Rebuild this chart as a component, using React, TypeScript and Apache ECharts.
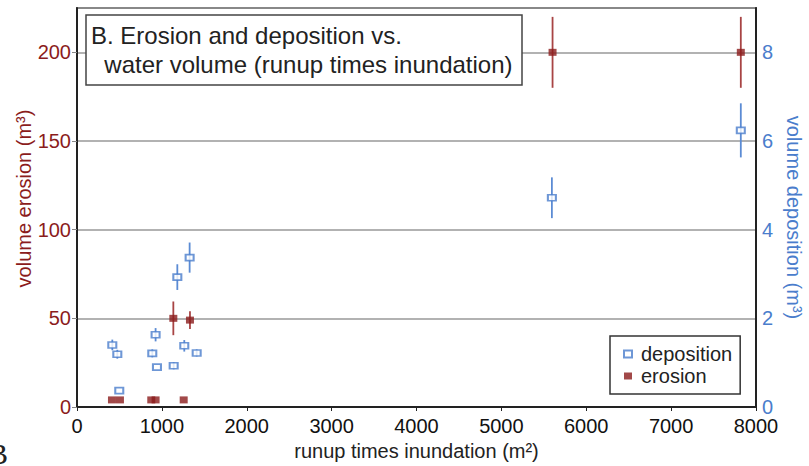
import React, { useEffect, useRef } from "react";
import * as echarts from "echarts";

// Deposition (right axis, m^3)
const depX = [416, 475, 498, 887, 926, 942, 1139, 1182, 1264, 1327, 1410, 5595, 7821];
const depY = [1.4, 1.19, 0.37, 1.21, 1.63, 0.9, 0.93, 2.93, 1.38, 3.37, 1.22, 4.72, 6.24];
const depErr = [0.12, 0.1, 0, 0.09, 0.15, 0, 0.08, 0.29, 0.13, 0.34, 0.08, 0.46, 0.61];

// Erosion (left axis, m^3)
const eroX = [412, 506, 875, 926, 1257, 1135, 1331, 5603, 7821];
const eroY = [4, 4, 4, 4, 4, 50, 49, 200, 200];
const eroErr = [0, 0, 0, 0, 0, 9.5, 5, 20, 20];

const xTicks = [0, 8000, 1000];
const leftTicks = [0, 225, 50];
const rightTicks = [0, 9, 2];

const RED = "#8b1c1c";
const RED_BAR = "#a84444";
const BLUE = "#4a7dcc";
const BLUE_BAR = "#5b8bd4";
const FONT = "'Liberation Sans', Arial, sans-serif";

function errBars(xs: number[], ys: number[], es: number[]) {
  const out: number[][] = [];
  xs.forEach((x, i) => {
    if (es[i] > 0) out.push([x, ys[i] - es[i], ys[i] + es[i]]);
  });
  return out;
}

function makeRender(color: string) {
  return (params: any, api: any) => {
    const x = api.value(0);
    const p1 = api.coord([x, api.value(1)]);
    const p2 = api.coord([x, api.value(2)]);
    return {
      type: "line",
      shape: { x1: p1[0], y1: p1[1], x2: p2[0], y2: p2[1] },
      style: { stroke: color, lineWidth: 1.8 },
    };
  };
}

export default function App() {
  const ref = useRef<HTMLDivElement>(null);
  useEffect(() => {
    if (!ref.current) return;
    const chart = echarts.init(ref.current, undefined, { renderer: "svg" });
    chart.setOption({
      animation: false,
      backgroundColor: "#fff",
      textStyle: { fontFamily: FONT },
      title: {
        text: "B. Erosion and deposition vs.\n  water volume (runup times inundation)",
        left: 86,
        top: 15,
        padding: [6, 10, 6, 5],
        borderColor: "#444",
        borderWidth: 1.5,
        backgroundColor: "#fff",
        textStyle: {
          fontFamily: FONT,
          fontSize: 24,
          fontWeight: "normal",
          color: "#222",
          lineHeight: 29,
        },
      },
      legend: {
        data: ["deposition", "erosion"],
        orient: "vertical",
        left: 610,
        top: 336,
        padding: [8, 8, 8, 13],
        itemGap: 2,
        itemWidth: 8,
        itemHeight: 7,
        borderColor: "#333",
        borderWidth: 1.5,
        backgroundColor: "#fff",
        textStyle: { fontFamily: FONT, fontSize: 20, color: "#222", padding: [0, 0, 0, 4] },
      },
      grid: {
        left: 77,
        right: 53,
        top: 8,
        bottom: 59,
        containLabel: false,
        outerBoundsMode: "none",
        show: true,
        borderColor: "#222",
        borderWidth: 1.5,
      },
      xAxis: {
        type: "value",
        min: xTicks[0],
        max: xTicks[1],
        interval: xTicks[2],
        name: "runup times inundation (m²)",
        nameLocation: "middle",
        nameGap: 31,
        nameTextStyle: { fontFamily: FONT, fontSize: 20, color: "#222" },
        axisLine: { lineStyle: { color: "#222", width: 2 } },
        axisTick: { length: 4, lineStyle: { color: "#222" } },
        axisLabel: {
          fontFamily: FONT,
          fontSize: 20,
          color: "#111",
          margin: 9,
          formatter: (v: number) => String(v),
        },
        splitLine: { show: false },
      },
      yAxis: [
        {
          type: "value",
          position: "left",
          min: leftTicks[0],
          max: leftTicks[1],
          interval: leftTicks[2],
          name: "volume erosion (m³)",
          nameLocation: "middle",
          nameGap: 43,
          nameMoveOverlap: false,
          nameTextStyle: { fontFamily: FONT, fontSize: 20, color: RED, padding: [0, 0, 0, 18] },
          axisLine: { show: true, lineStyle: { color: "#222", width: 2 } },
          axisTick: { show: true, length: 5, lineStyle: { color: "#888" } },
          axisLabel: { fontFamily: FONT, fontSize: 20, color: RED, margin: 6, showMaxLabel: false },
          splitLine: { show: true, lineStyle: { color: "#999", width: 1.5 } },
        },
        {
          type: "value",
          position: "right",
          min: rightTicks[0],
          max: rightTicks[1],
          interval: rightTicks[2],
          name: "volume deposition (m³)",
          nameLocation: "middle",
          nameRotate: -90,
          nameGap: 16,
          nameTextStyle: { fontFamily: FONT, fontSize: 20, color: BLUE, padding: [0, 0, 0, 20] },
          axisLine: { show: true, lineStyle: { color: "#222", width: 2 } },
          axisTick: { show: false },
          axisLabel: { fontFamily: FONT, fontSize: 20, color: BLUE, margin: 6, showMaxLabel: false },
          splitLine: { show: false },
        },
      ],
      series: [
        {
          name: "erosion-err",
          type: "custom",
          yAxisIndex: 0,
          renderItem: makeRender(RED_BAR),
          encode: { x: 0, y: [1, 2] },
          data: errBars(eroX, eroY, eroErr),
          z: 2,
        },
        {
          name: "deposition-err",
          type: "custom",
          yAxisIndex: 1,
          renderItem: makeRender(BLUE_BAR),
          encode: { x: 0, y: [1, 2] },
          data: errBars(depX, depY, depErr),
          z: 2,
        },
        {
          name: "deposition",
          type: "scatter",
          yAxisIndex: 1,
          symbol: "rect",
          symbolSize: [8, 6],
          itemStyle: { color: "#fff", borderColor: BLUE, borderWidth: 1.8 },
          data: depX.map((x, i) => [x, depY[i]]),
          z: 3,
        },
        {
          name: "erosion",
          type: "scatter",
          yAxisIndex: 0,
          symbol: "rect",
          symbolSize: [8, 7],
          itemStyle: { color: RED },
          data: eroX.map((x, i) => [x, eroY[i]]),
          z: 4,
        },
      ],
      graphic: [
        {
          type: "text",
          x: -12,
          y: 438,
          style: { text: "B", font: "normal 30px 'Liberation Serif', serif", fill: "#222" },
        },
      ],
    });
    return () => chart.dispose();
  }, []);
  return (
    <div
      ref={ref}
      style={{ position: "absolute", left: 0, top: 0, width: 809, height: 466 }}
    />
  );
}
